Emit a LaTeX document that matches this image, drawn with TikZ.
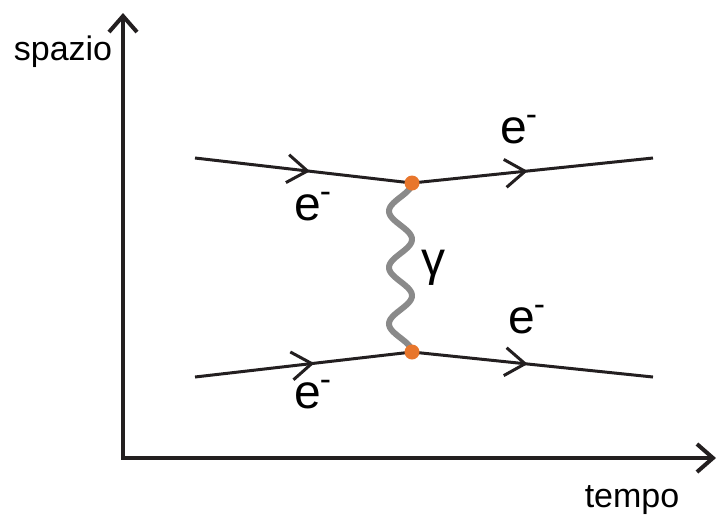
\documentclass[tikz,border=0pt]{standalone}
\usepackage{fontspec}
\setmainfont{Liberation Sans}
\usepackage{xcolor}
\usetikzlibrary{arrows.meta, positioning, decorations.markings}

\definecolor{linecol}{HTML}{231F20}
\definecolor{dotcol}{HTML}{E8762C}
\definecolor{photoncol}{HTML}{8A8A8A}

\begin{document}
\begin{tikzpicture}[
      x=0.5pt, y=-0.5pt,
      axis/.style={draw=linecol, line width=2pt, -{Straight Barb[length=8pt, width=14pt]}},
      fermion/.style={draw=linecol, line width=1.5pt,
        postaction={decorate, decoration={markings,
          mark=at position #1 with {\arrow{Straight Barb[length=10pt, width=14pt, line width=1.5pt]}}}}},
      photon/.style={draw=photoncol, line width=3pt, line cap=round},
      vertex/.style={circle, fill=dotcol, inner sep=0pt, minimum size=7.5pt},
      lbl/.style={font=\fontsize{24}{26}\selectfont, inner sep=0pt},
      axlbl/.style={font=\fontsize{17}{20}\selectfont, inner sep=0pt}
    ]
      \useasboundingbox (0,0) rectangle (717,516);

      % axes
      \coordinate (origin) at (123,458);
      \coordinate (ytop) at (123,13);
      \coordinate (xend) at (716,458);
      \draw[axis] (origin) -- (ytop);
      \draw[axis] ([xshift=-1pt]origin) -- (xend);
      \node[axlbl] (spazio) at (63,52) {spazio};
      \node[axlbl] (tempo) at (632,500) {tempo};

      % vertices and free ends
      \coordinate (v1) at (412,183);
      \coordinate (v2) at (412,352);
      \coordinate (in1) at (195,158);
      \coordinate (out1) at (653,158);
      \coordinate (in2) at (195,377);
      \coordinate (out2) at (653,377);

      % electrons
      \draw[fermion=0.53] (in1) -- (v1);
      \draw[fermion=0.48] (v1) -- (out1);
      \draw[fermion=0.55] (in2) -- (v2);
      \draw[fermion=0.48] (v2) -- (out2);

      % photon
      \draw[photon] plot[domain=0:169, samples=120, smooth]
        ({400.5+11.5*cos(\x/169*1080)}, {183+\x});

      \node[vertex] (dot1) at (v1) {};
      \node[vertex] (dot2) at (v2) {};

      % labels
      \node[lbl] (e1) at (313,207) {e\kern-0.5pt\textsuperscript{-}};
      \node[lbl] (e2) at (519,130) {e\kern-0.5pt\textsuperscript{-}};
      \node[lbl] (e3) at (313,395) {e\kern-0.5pt\textsuperscript{-}};
      \node[lbl] (e4) at (527,320) {e\kern-0.5pt\textsuperscript{-}};
      \node[lbl] (gamma) at (433,268) {γ};
    \end{tikzpicture}
\end{document}
